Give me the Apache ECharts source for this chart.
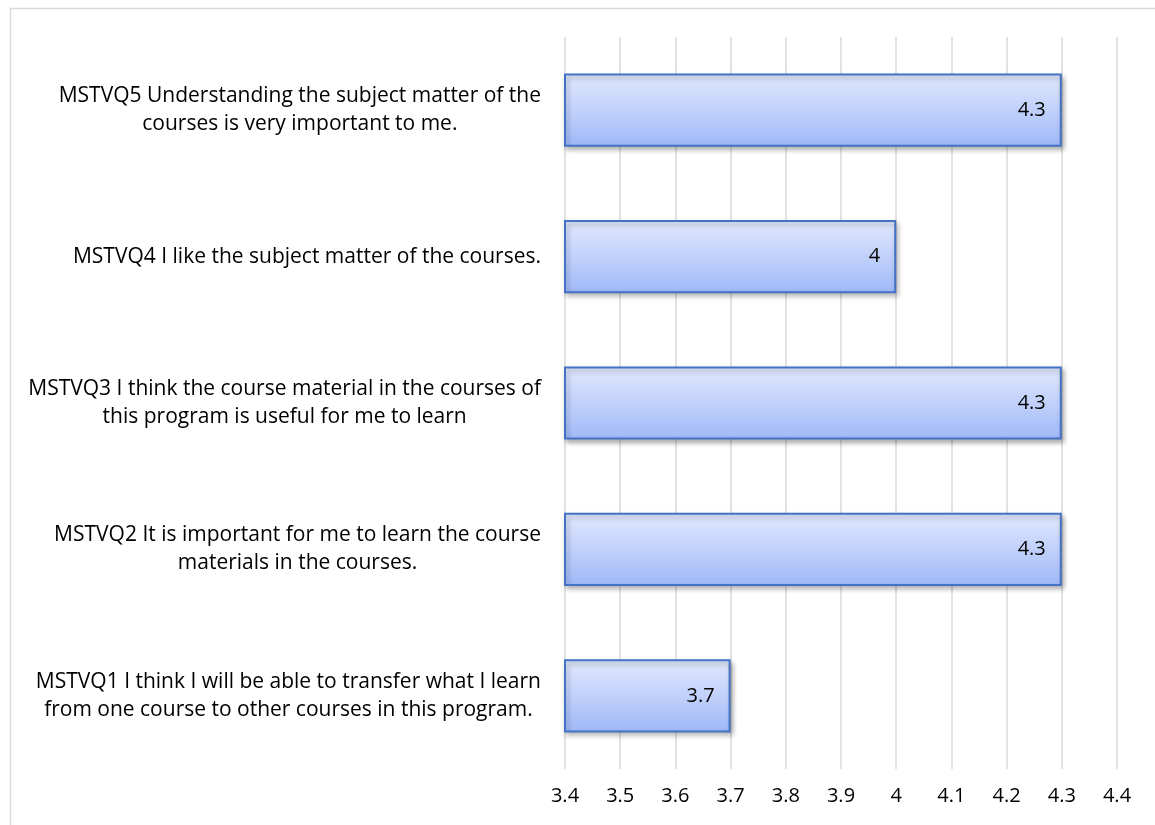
<!DOCTYPE html>
<html>
<head>
<meta charset="utf-8">
<script src="https://cdn.jsdelivr.net/npm/echarts@6/dist/echarts.min.js"></script>
<style>
  html, body { margin: 0; padding: 0; background: #fff; }
  #chart { width: 1155px; height: 825px; }
</style>
</head>
<body>
<div id="chart"></div>
<script>
// categories bottom -> top (category axis draws first item at the bottom)
var questions = [
  "MSTVQ1 I think I will be able to transfer what I learn\nfrom one course to other courses in this program.",
  "MSTVQ2 It is important for me to learn the course\nmaterials in the courses.",
  "MSTVQ3 I think the course material in the courses of\nthis program is useful for me to learn",
  "MSTVQ4 I like the subject matter of the courses.",
  "MSTVQ5 Understanding the subject matter of the\ncourses is very important to me."
];
var scores = [3.7, 4.3, 4.3, 4, 4.3];
var xTicks = { min: 3.4, max: 4.4, step: 0.1 };

var myChart = echarts.init(document.getElementById("chart"));
var fontFamily = "'Open Sans', sans-serif";
var labelSize = 21;
var numSize = 20;

var option = {
  backgroundColor: "#fff",
  animation: false,
  graphic: [
    {
      // chart area frame (runs off the page on the right and bottom)
      type: "rect",
      shape: { x: 10.5, y: 8.5, width: 1200, height: 900 },
      style: { fill: "none", stroke: "#d9d9d9", lineWidth: 1.5 },
      silent: true
    }
  ],
  grid: {
    left: 565,
    right: 38,
    top: 37,
    bottom: 56
  },
  xAxis: {
    type: "value",
    min: xTicks.min,
    max: xTicks.max,
    interval: xTicks.step,
    axisLine: { show: false },
    axisTick: { show: false },
    splitLine: {
      lineStyle: { color: "#d9d9d9", width: 1.5 }
    },
    axisLabel: {
      margin: 17,
      color: "#000",
      fontSize: numSize,
      fontFamily: fontFamily,
      formatter: function(v) {
        return String(Math.round(v * 10) / 10);
      }
    }
  },
  yAxis: {
    type: "category",
    data: questions,
    axisLine: { show: false },
    axisTick: { show: false },
    axisLabel: {
      margin: 24,
      color: "#000",
      fontSize: labelSize,
      lineHeight: 28,
      fontFamily: fontFamily,
      formatter: function(v) {
        return v.split("\n").map(function(line) {
          return "{c|" + line + "}";
        }).join("\n");
      },
      rich: {
        c: {
          align: "center",
          color: "#000",
          fontSize: labelSize,
          lineHeight: 28,
          fontFamily: fontFamily
        }
      }
    }
  },
  series: [
    {
      type: "bar",
      data: scores,
      barWidth: "50%",
      itemStyle: {
        color: new echarts.graphic.LinearGradient(0, 0, 0, 1, [
          { offset: 0, color: "#e2e9fd" },
          { offset: 1, color: "#9fb8f8" }
        ]),
        borderColor: "#4472c4",
        borderWidth: 2,
        shadowColor: "rgba(0, 0, 0, 0.3)",
        shadowBlur: 5,
        shadowOffsetX: 2,
        shadowOffsetY: 3
      },
      label: {
        show: true,
        position: "insideRight",
        distance: 16,
        color: "#000",
        fontSize: numSize,
        fontFamily: fontFamily
      }
    }
  ]
};
myChart.setOption(option);
</script>
</body>
</html>
